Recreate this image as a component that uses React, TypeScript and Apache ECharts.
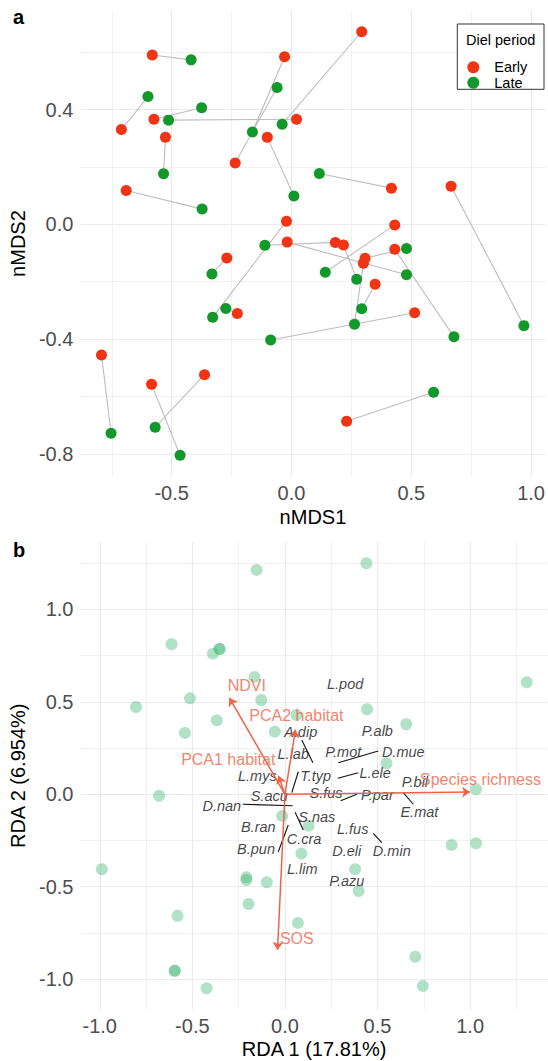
import React, { useEffect, useRef } from "react";
import * as echarts from "echarts";

// ---------- Panel a: nMDS (pairs: Early[i] <-> Late[i]) ----------
const earlyX = [-0.581, -0.710, -0.574, 0.021, -0.526, -0.690, -0.029, -0.235, 0.293, -0.101, 0.417, 0.666, -0.021, -0.018, 0.183, 0.217, 0.431, 0.307, 0.300, 0.431, 0.349, 0.514, -0.270, -0.226, -0.793, -0.584, -0.363, 0.230];
const earlyY = [0.590, 0.330, 0.366, 0.366, 0.303, 0.118, 0.584, 0.214, 0.671, 0.303, 0.126, 0.133, 0.011, -0.062, -0.063, -0.072, -0.002, -0.118, -0.136, -0.087, -0.209, -0.308, -0.117, -0.311, -0.455, -0.557, -0.524, -0.686];
const lateX = [-0.419, -0.599, -0.375, -0.513, -0.534, -0.373, -0.163, -0.060, -0.039, 0.010, 0.116, 0.970, -0.329, 0.480, -0.111, 0.272, 0.141, 0.480, 0.263, 0.678, 0.293, -0.087, -0.332, -0.274, -0.753, -0.465, -0.569, 0.593];
const lateY = [0.573, 0.445, 0.406, 0.363, 0.176, 0.053, 0.322, 0.477, 0.349, 0.099, 0.177, -0.353, -0.324, -0.176, -0.073, -0.191, -0.167, -0.084, -0.348, -0.392, -0.294, -0.403, -0.173, -0.293, -0.728, -0.805, -0.707, -0.585];

const aXRange = [-0.881, 1.06];
const aYRange = [-0.879, 0.745];
const aXTicks = [-0.5, 0, 0.5, 1.0];
const aYTicks = [-0.8, -0.4, 0, 0.4];
const aXMinor = [-0.75, -0.25, 0.25, 0.75];
const aYMinor = [-0.6, -0.2, 0.2, 0.6];

// ---------- Panel b: RDA ----------
const siteX = [-0.153, 0.440, -0.612, -0.389, -0.353, -0.353, -0.164, -0.804, -0.513, -0.128, -0.368, -0.540, -0.055, 0.062, 0.443, 0.655, 0.549, 1.306, 1.032, -0.680, -0.989, -0.015, 0.128, 0.089, 0.900, 1.032, 0.379, 0.398, -0.208, -0.208, -0.098, -0.197, -0.580, 0.070, -0.595, -0.595, -0.423, 0.704, 0.745];
const siteY = [1.214, 1.250, 0.812, 0.761, 0.786, 0.786, 0.635, 0.472, 0.519, 0.510, 0.400, 0.332, 0.339, 0.429, 0.460, 0.379, 0.168, 0.606, 0.027, -0.008, -0.406, -0.117, -0.170, -0.321, -0.274, -0.265, -0.406, -0.523, -0.449, -0.464, -0.476, -0.594, -0.657, -0.696, -0.955, -0.955, -1.050, -0.879, -1.037];

const speciesNames = ["L.pod", "A.dip", "P.alb", "L.lab", "P.mot", "D.mue", "L.mys", "T.typ", "L.ele", "P.bil", "S.acu", "S.fus", "P.par", "D.nan", "E.mat", "S.nas", "B.ran", "L.fus", "C.cra", "B.pun", "D.eli", "D.min", "L.lim", "P.azu"];
const speciesX = [0.325, 0.085, 0.499, 0.045, 0.315, 0.639, -0.149, 0.166, 0.487, 0.702, -0.084, 0.222, 0.499, -0.341, 0.726, 0.172, -0.144, 0.366, 0.103, -0.156, 0.334, 0.577, 0.094, 0.334];
const speciesY = [0.595, 0.335, 0.344, 0.216, 0.231, 0.227, 0.101, 0.099, 0.114, 0.068, -0.009, 0.005, -0.004, -0.062, -0.097, -0.124, -0.179, -0.189, -0.242, -0.298, -0.308, -0.307, -0.404, -0.468];

const leaderX1 = [0.091, 0.072, 0.288, 0.285, 0.301, 0.639, -0.228, 0.055, 0.018, 0.477];
const leaderY1 = [0.294, 0.122, 0.171, 0.087, -0.035, 0.009, -0.054, -0.097, -0.166, -0.211];
const leaderX2 = [0.151, 0.037, 0.504, 0.396, 0.388, 0.693, 0.042, 0.099, -0.036, 0.523];
const leaderY2 = [0.171, 0.009, 0.234, 0.117, 0.000, -0.054, -0.062, -0.193, -0.311, -0.262];

const envNames = ["Species richness", "NDVI", "PCA2 habitat", "PCA1 habitat", "SOS"];
const envTipX = [1.0, -0.30, 0.057, -0.035, -0.040];
const envTipY = [0.012, 0.522, 0.35, 0.10, -0.843];
const envLabelX = [1.056, -0.206, 0.062, -0.306, 0.064];
const envLabelY = [0.081, 0.591, 0.424, 0.19, -0.779];

const bXRange = [-1.104, 1.419];
const bYRange = [-1.165, 1.365];
const bXTicks = [-1, -0.5, 0, 0.5, 1];
const bYTicks = [-1, -0.5, 0, 0.5, 1];
const bXMinor = [-0.75, -0.25, 0.25, 0.75, 1.25];
const bYMinor = [-0.75, -0.25, 0.25, 0.75, 1.25];

const FONT = "Liberation Sans, Arial, Helvetica, sans-serif";
const RED = "#f03414";
const GREEN = "#12982b";
const ENV = "#ee6346";

function gridSeries(idx: number, xs: number[], ys: number[], xr: number[], yr: number[], width: number) {
  return {
    type: "lines",
    coordinateSystem: "cartesian2d",
    xAxisIndex: idx,
    yAxisIndex: idx,
    silent: true,
    z: 0,
    lineStyle: { color: "#ebebeb", width, opacity: 1, curveness: 0 },
    data: [
      ...xs.map((x) => ({ coords: [[x, yr[0]], [x, yr[1]]] })),
      ...ys.map((y) => ({ coords: [[xr[0], y], [xr[1], y]] })),
    ],
  };
}

function valueAxis(idx: number, range: number[], ticks: number[], name: string, gap: number, isX: boolean) {
  return {
    type: "value",
    gridIndex: idx,
    min: range[0],
    max: range[1],
    axisLine: { show: false },
    axisTick: { show: false },
    splitLine: { show: false },
    axisLabel: {
      customValues: ticks,
      formatter: (v: number) => v.toFixed(1),
      fontSize: 20,
      color: "#4d4d4d",
      fontFamily: FONT,
      margin: isX ? 6 : 7,
    },
    name,
    nameLocation: "middle",
    nameGap: gap,
    nameTextStyle: { fontSize: 20, color: "#000", fontFamily: FONT },
  };
}

export default function App() {
  const ref = useRef<HTMLDivElement>(null);
  useEffect(() => {
    if (!ref.current) return;
    const chart = echarts.init(ref.current, undefined, { renderer: "svg" });
    const option: any = {
      animation: false,
      textStyle: { fontFamily: FONT },
      grid: [
        { left: 80.4, top: 10.5, width: 467.6, height: 466.1 },
        { left: 80.5, top: 542, width: 467.2, height: 467.6 },
      ],
      xAxis: [
        valueAxis(0, aXRange, aXTicks, "nMDS1", 30, true),
        valueAxis(1, bXRange, bXTicks, "RDA 1 (17.81%)", 29, true),
      ],
      yAxis: [
        valueAxis(0, aYRange, aYTicks, "nMDS2", 46, false),
        valueAxis(1, bYRange, bYTicks, "RDA 2 (6.954%)", 46, false),
      ],
      legend: {
        data: ["Early", "Late"],
        orient: "vertical",
        left: 462.3,
        top: 54.7,
        itemWidth: 32,
        itemHeight: 12,
        itemGap: 0.6,
        icon: "circle",
        selectedMode: false,
        z: 5,
        textStyle: { fontSize: 14.5, color: "#000", fontFamily: FONT, lineHeight: 12 },
      },
      graphic: [
        { type: "rect", z: 3, shape: { x: 457.3, y: 24, width: 86.7, height: 65.3 }, style: { fill: "#fff", stroke: "#333", lineWidth: 1 } },
        { type: "text", z: 6, x: 466, y: 40, style: { text: "Diel period", fontSize: 14.5, fill: "#000", fontFamily: FONT, verticalAlign: "middle" } },
        { type: "text", z: 6, x: 13, y: 17, style: { text: "a", fontSize: 20, fontWeight: "bold", fill: "#000", fontFamily: FONT, verticalAlign: "middle" } },
        { type: "text", z: 6, x: 13, y: 549.7, style: { text: "b", fontSize: 20, fontWeight: "bold", fill: "#000", fontFamily: FONT, verticalAlign: "middle" } },
      ],
      series: [
        gridSeries(0, aXTicks, aYTicks, aXRange, aYRange, 1.2),
        gridSeries(0, aXMinor, aYMinor, aXRange, aYRange, 0.7),
        gridSeries(1, bXTicks, bYTicks, bXRange, bYRange, 1.2),
        gridSeries(1, bXMinor, bYMinor, bXRange, bYRange, 0.7),
        {
          type: "lines",
          coordinateSystem: "cartesian2d",
          xAxisIndex: 0,
          yAxisIndex: 0,
          silent: true,
          z: 1,
          lineStyle: { color: "#bdbdbd", width: 1.1, opacity: 1 },
          data: earlyX.map((x, i) => ({ coords: [[x, earlyY[i]], [lateX[i], lateY[i]]] })),
        },
        {
          name: "Early",
          type: "scatter",
          xAxisIndex: 0,
          yAxisIndex: 0,
          symbolSize: 11,
          itemStyle: { color: RED, opacity: 1 },
          data: earlyX.map((x, i) => [x, earlyY[i]]),
        },
        {
          name: "Late",
          type: "scatter",
          xAxisIndex: 0,
          yAxisIndex: 0,
          symbolSize: 11,
          itemStyle: { color: GREEN, opacity: 1 },
          data: lateX.map((x, i) => [x, lateY[i]]),
        },
        {
          type: "scatter",
          xAxisIndex: 1,
          yAxisIndex: 1,
          symbolSize: 12,
          z: 2,
          itemStyle: { color: "rgba(60,179,113,0.5)" },
          data: siteX.map((x, i) => [x, siteY[i]]),
        },
        {
          type: "lines",
          coordinateSystem: "cartesian2d",
          xAxisIndex: 1,
          yAxisIndex: 1,
          silent: true,
          z: 3,
          lineStyle: { color: "#111", width: 1.1, opacity: 1 },
          data: leaderX1.map((x, i) => ({ coords: [[x, leaderY1[i]], [leaderX2[i], leaderY2[i]]] })),
        },
        {
          type: "scatter",
          xAxisIndex: 1,
          yAxisIndex: 1,
          symbolSize: 0,
          z: 4,
          silent: true,
          label: {
            show: true,
            position: "inside",
            formatter: "{b}",
            color: "#111",
            fontSize: 14.5,
            fontStyle: "italic",
            fontFamily: FONT,
          },
          data: speciesNames.map((n, i) => ({ name: n, value: [speciesX[i], speciesY[i]] })),
        },
        {
          type: "lines",
          coordinateSystem: "cartesian2d",
          xAxisIndex: 1,
          yAxisIndex: 1,
          silent: true,
          z: 5,
          symbol: ["none", "arrow"],
          symbolSize: 8,
          lineStyle: { color: ENV, width: 1.5, opacity: 1 },
          data: envTipX.map((x, i) => ({ coords: [[0, 0], [x, envTipY[i]]] })),
        },
        {
          type: "scatter",
          xAxisIndex: 1,
          yAxisIndex: 1,
          symbolSize: 0,
          z: 6,
          silent: true,
          label: {
            show: true,
            position: "inside",
            formatter: "{b}",
            color: ENV,
            fontSize: 16,
            fontFamily: FONT,
          },
          data: envNames.map((n, i) => ({ name: n, value: [envLabelX[i], envLabelY[i]] })),
        },
      ],
    };
    chart.setOption(option);
    return () => chart.dispose();
  }, []);
  return <div ref={ref} style={{ position: "absolute", left: 0, top: 0, width: 548, height: 1061 }} />;
}
